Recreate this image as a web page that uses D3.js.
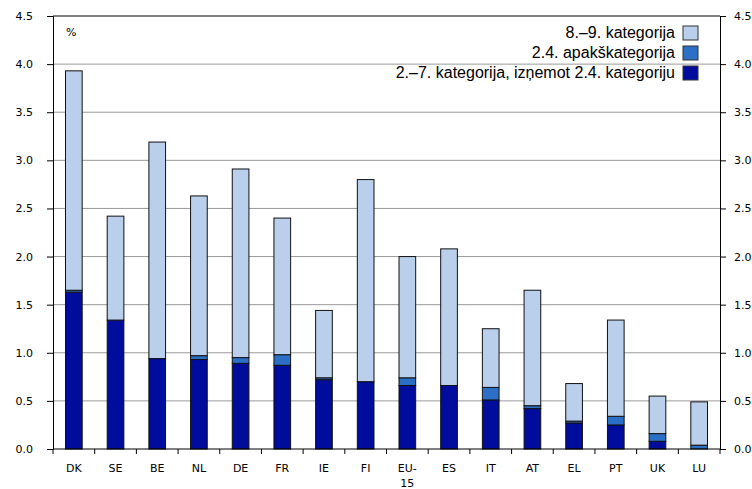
<!DOCTYPE html>
<html>
<head>
<meta charset="utf-8">
<script src="https://cdn.jsdelivr.net/npm/d3@7"></script>
<style>
  body { margin: 0; background: #fff; }
  .tick text { font-family: "DejaVu Sans", Verdana, sans-serif; font-size: 11px; fill: #000; }
</style>
</head>
<body>
<div id="chart"></div>
<script>
// countries on the x axis
var countries = ["DK", "SE", "BE", "NL", "DE", "FR", "IE", "FI", "EU-15", "ES", "IT", "AT", "EL", "PT", "UK", "LU"];
// 2.–7. kategorija, izņemot 2.4. kategoriju
var catMain = [1.63, 1.34, 0.94, 0.93, 0.89, 0.87, 0.72, 0.70, 0.66, 0.66, 0.51, 0.42, 0.27, 0.25, 0.08, 0.00];
// 2.4. apakškategorija
var catSub = [0.02, 0.00, 0.00, 0.04, 0.06, 0.11, 0.02, 0.00, 0.08, 0.00, 0.13, 0.03, 0.02, 0.09, 0.08, 0.04];
// 8.–9. kategorija
var catOther = [2.28, 1.08, 2.25, 1.66, 1.96, 1.42, 0.70, 2.10, 1.26, 1.42, 0.61, 1.20, 0.39, 1.00, 0.39, 0.45];
var yTicks = [0, 0.5, 1, 1.5, 2, 2.5, 3, 3.5, 4, 4.5];

var seriesKeys = ["main", "sub", "other"];
var seriesNames = {
  other: "8.–9. kategorija",
  sub: "2.4. apakškategorija",
  main: "2.–7. kategorija, izņemot 2.4. kategoriju"
};
var colors = { main: "#000c9c", sub: "#2c6fc7", other: "#bacfeb" };

var margin = { top: 16, right: 32, bottom: 40, left: 53 },
    width = 752 - margin.left - margin.right,
    height = 489 - margin.top - margin.bottom;

var svg = d3.select("#chart")
  .append("svg")
  .attr("width", 752)
  .attr("height", 489)
  .append("g")
  .attr("transform", "translate(" + margin.left + "," + margin.top + ")");

var table = countries.map(function(c, i) {
  return { country: c, main: catMain[i], sub: catSub[i], other: catOther[i] };
});
var stacked = d3.stack().keys(seriesKeys)(table);

var x = d3.scaleBand().domain(countries).range([0, width]).paddingInner(0.6).paddingOuter(0.3);
var xTickScale = d3.scaleLinear().domain([0, countries.length]).range([0, width]);
var y = d3.scaleLinear().domain([0, 4.5]).range([height, 0]);

// gridlines
svg.append("g")
  .selectAll("line")
  .data(yTicks.slice(1, -1))
  .enter()
  .append("line")
  .attr("x1", 0)
  .attr("x2", width)
  .attr("y1", function(d) { return y(d); })
  .attr("y2", function(d) { return y(d); })
  .style("stroke", "#9a9a9a")
  .style("stroke-width", 1);

// top frame line
svg.append("line")
  .attr("x1", 0).attr("x2", width)
  .attr("y1", y(4.5)).attr("y2", y(4.5))
  .style("stroke", "#000");

// bars
svg.append("g")
  .selectAll("g")
  .data(stacked)
  .enter()
  .append("g")
  .style("fill", function(d) { return colors[d.key]; })
  .selectAll("rect")
  .data(function(d) { return d.filter(function(p) { return p[1] - p[0] > 0; }); })
  .enter()
  .append("rect")
  .attr("x", function(d) { return x(d.data.country); })
  .attr("y", function(d) { return y(d[1]); })
  .attr("width", x.bandwidth())
  .attr("height", function(d) { return y(d[0]) - y(d[1]); })
  .style("stroke", "#111")
  .style("stroke-width", 1);

// axes
var yLeft = svg.append("g")
  .call(d3.axisLeft(y).tickValues(yTicks).tickFormat(d3.format(".1f")).tickSize(6).tickPadding(14));
var yRight = svg.append("g")
  .attr("transform", "translate(" + width + ",0)")
  .call(d3.axisRight(y).tickValues(yTicks).tickFormat(d3.format(".1f")).tickSize(6).tickPadding(8));
[yLeft, yRight].forEach(function(a) {
  a.select(".domain").style("stroke", "#000");
  a.selectAll(".tick line").style("stroke", "#000");
});

// x axis: ticks between categories
var xAxis = svg.append("g").attr("transform", "translate(0," + height + ")");
xAxis.append("line")
  .attr("x1", 0).attr("x2", width)
  .style("stroke", "#000");
xAxis.selectAll(".xt")
  .data(d3.range(countries.length + 1))
  .enter()
  .append("line")
  .attr("class", "xt")
  .attr("x1", function(d) { return xTickScale(d); })
  .attr("x2", function(d) { return xTickScale(d); })
  .attr("y1", 0)
  .attr("y2", 5)
  .style("stroke", "#000");

var xLabels = xAxis.selectAll(".xl")
  .data(countries)
  .enter()
  .append("text")
  .attr("class", "xl")
  .attr("x", function(d) { return x(d) + x.bandwidth() / 2; })
  .attr("y", 23)
  .attr("text-anchor", "middle")
  .style("font-family", "'DejaVu Sans', Verdana, sans-serif")
  .style("font-size", "11px");
xLabels.each(function(d) {
  var parts = d === "EU-15" ? ["EU-", "15"] : [d];
  var t = d3.select(this);
  parts.forEach(function(p, i) {
    t.append("tspan")
      .attr("x", x(d) + x.bandwidth() / 2)
      .attr("dy", i === 0 ? 0 : 15)
      .text(p);
  });
});

// unit label
svg.append("text")
  .attr("x", 13)
  .attr("y", 20)
  .style("font-family", "'DejaVu Sans', Verdana, sans-serif")
  .style("font-size", "11px")
  .text("%");

// legend
var legendOrder = ["other", "sub", "main"];
var legend = svg.append("g")
  .attr("transform", "translate(" + (width - 37) + ",10)");
legendOrder.forEach(function(k, i) {
  var row = legend.append("g").attr("transform", "translate(0," + (i * 20) + ")");
  row.append("rect")
    .attr("x", 0)
    .attr("y", 0)
    .attr("width", 15)
    .attr("height", 14)
    .style("fill", colors[k])
    .style("stroke", "#333");
  row.append("text")
    .attr("x", -8)
    .attr("y", 12)
    .attr("text-anchor", "end")
    .style("font-family", "'Liberation Sans', Arial, sans-serif")
    .style("font-size", "16px")
    .text(seriesNames[k]);
});
</script>
</body>
</html>
